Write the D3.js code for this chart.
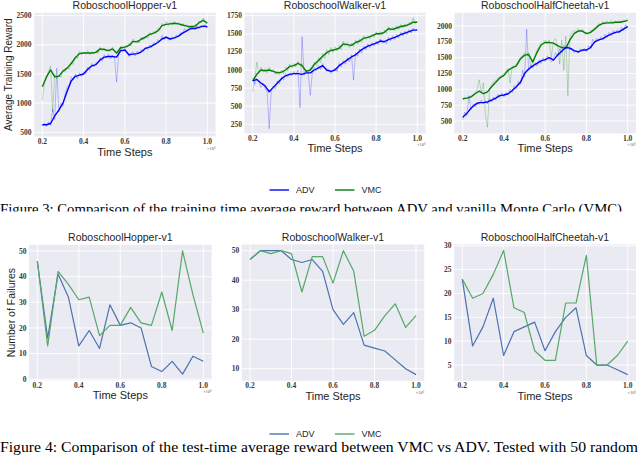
<!DOCTYPE html>
<html>
<head>
<meta charset="utf-8">
<script src="https://cdn.jsdelivr.net/npm/d3@7"></script>
<style>
body { margin: 0; background: #fff; }
svg { display: block; }
</style>
</head>
<body>
<svg width="640" height="455"></svg>
<script>
// ---- data ----
// smoothed curves, time steps 0.20 .. 1.00 every 0.02 (x10^6)
var hopperAdv = [630,630,650,780,880,1000,1200,1380,1460,1480,1500,1580,1640,1660,1740,1790,1800,1800,1790,1900,1910,1830,1840,1850,1880,1940,1960,2000,2040,2100,2130,2100,2120,2150,2200,2240,2280,2280,2300,2320,2310];
var hopperVmc = [1280,1450,1570,1450,1460,1550,1600,1680,1780,1850,1860,1860,1860,1870,1930,1920,1900,1930,1860,1950,1960,1990,2060,2050,2100,2130,2180,2200,2240,2330,2350,2360,2370,2360,2340,2320,2310,2320,2380,2420,2370];
var walkerAdv = [850,870,820,780,700,760,820,880,920,940,950,950,940,960,960,1000,1030,1060,1000,980,1000,1060,1100,1140,1180,1210,1260,1300,1330,1350,1370,1400,1390,1420,1440,1460,1490,1510,1530,1550,1550];
var walkerVmc = [850,940,1000,990,1000,980,960,970,1000,1050,1060,1090,1060,980,1000,1080,1130,1190,1240,1270,1280,1300,1360,1350,1340,1380,1400,1440,1450,1470,1500,1500,1520,1570,1560,1580,1600,1610,1630,1660,1660];
var cheetahAdv = [560,620,700,760,790,790,800,830,860,900,910,930,980,1040,1110,1250,1320,1370,1410,1450,1470,1500,1460,1540,1600,1660,1650,1610,1590,1620,1620,1660,1750,1780,1800,1840,1870,1900,1910,1950,1990];
var cheetahVmc = [850,860,880,930,970,930,960,1040,1110,1180,1220,1300,1340,1370,1480,1540,1550,1430,1580,1700,1740,1740,1730,1690,1660,1650,1780,1880,1920,1920,1880,1900,1950,2010,2040,2050,2050,2060,2060,2070,2090];

// raw (unsmoothed) curves, time steps 0.20 .. 1.00 every 0.01
var hopperAdvRaw = [610,660,600,680,620,900,720,1600,850,1000,950,1150,1280,1300,1450,1400,1500,1420,1520,1460,1540,1510,1620,1560,1680,1620,1700,1690,1780,1720,1830,1770,1840,1760,1820,1780,1360,1850,1950,1880,1940,1870,1800,1860,1880,1810,1890,1840,1920,1880,1960,1920,2000,1950,2040,2000,2090,2060,2160,2090,2150,2100,2080,2140,2100,2170,2140,2210,2190,2280,2240,2300,2260,2320,2260,2330,2280,2340,2300,2350,2290];
var hopperVmcRaw = [1050,1350,1420,1560,1640,850,1500,1420,1480,1440,1570,1530,1620,1580,1700,1660,1800,1760,1890,1830,1880,1840,1900,1830,1880,1840,1900,1850,1960,1900,1950,1890,1920,1880,1960,1900,1840,1900,1980,1930,1990,1950,2020,1980,2100,2040,2080,2030,2130,2080,2160,2110,2210,2160,2230,2190,2280,2240,2370,2320,2400,2330,2390,2340,2400,2350,2390,2330,2370,2320,2350,2290,2340,2290,2350,2330,2410,2380,2460,2400,2390];
var walkerAdvRaw = [900,800,880,830,760,820,740,700,190,720,780,740,850,810,900,860,950,900,960,920,980,930,1000,480,1460,930,990,940,650,980,1030,990,1060,1000,1090,1030,980,1010,950,1000,1030,980,1090,1040,1130,1080,1170,1110,1210,860,1240,1190,1290,1230,1330,1280,1360,1310,1380,1330,1400,1350,1430,1370,1410,1360,1450,1400,1470,1420,1490,1440,1520,1470,1540,1490,1560,1510,1580,1540,1570];
var walkerVmcRaw = [700,880,1110,960,1040,970,1020,960,1040,980,1010,940,990,940,1000,950,1040,990,1080,1030,1090,1040,1120,1060,1090,1000,1010,950,1030,990,1110,1060,1170,1100,1230,1160,1280,1210,1310,1240,1320,1260,1340,1280,1400,1330,1380,1310,1370,1320,1410,1360,1430,1380,1470,1420,1480,1430,1500,1450,1530,1480,1530,1480,1550,1500,1600,1540,1590,1540,1610,1560,1630,1580,1640,1600,1660,1620,1720,1640,1680];
var cheetahAdvRaw = [520,640,580,900,680,760,720,800,760,830,770,820,770,850,800,880,830,920,870,940,880,950,910,1000,950,1060,1010,1130,1080,1300,1200,1950,1300,1380,1340,1420,1370,1460,1410,1500,1440,1530,1470,1430,1490,1580,1520,1640,1580,1700,1640,1690,1620,1650,1580,1620,1570,1640,1600,1650,1600,1690,1640,1790,1730,1810,1760,1830,1780,1870,1820,1900,1850,1930,1880,1940,1890,1980,1930,2020,1970];
var cheetahVmcRaw = [830,870,850,890,870,910,950,1000,1150,950,1100,600,400,1000,1070,1120,1150,1180,1200,1220,1250,1290,1330,1100,1370,1350,1400,1450,1510,1530,1570,1560,1580,1350,1460,1520,1620,1680,1730,1760,1780,1720,1780,1500,1760,1800,1700,1400,1780,1300,1840,900,1850,1900,1930,1900,1960,1920,1950,1890,1900,1870,1930,1920,1980,1990,2040,2010,2070,2030,2080,2040,2090,2030,2080,2060,2090,2050,2100,2080,2120];

// test-time failures, time steps 0.20 .. 1.00 every 0.05
var failHopperAdv = [46,16,41,32,13,19,12,29,21,22,20,5,3,7,2,9,7];
var failHopperVmc = [46,13,42,37,31,32,17,21,21,28,22,21,34,19,50,33,18];
var failWalkerAdv = [47,50,50,50,47,46,47,43,30,25,29,18,17,16,13,10,8];
var failWalkerVmc = [47,50,49,50,49,36,48,48,39,50,43,21,23,28,32,24,28];
var failCheetahAdv = [23,9,13,19,7,12,13,14,8,12,15,17,7,5,5,4,3];
var failCheetahVmc = [23,19,20,24,29,17,16,8,6,6,18,18,28,5,5,7,10];

var xTicks = [0.2, 0.4, 0.6, 0.8, 1.0];
var legendNames = ["ADV", "VMC"];

var stepsSmooth = d3.range(41).map(function(i) { return 0.2 + i * 0.02; });
var stepsRaw = d3.range(81).map(function(i) { return 0.2 + i * 0.01; });
var stepsFail = d3.range(17).map(function(i) { return 0.2 + i * 0.05; });

var svg = d3.select("svg");
var BG = "#eaeaf2";
var SANS = "'Liberation Sans', Arial, sans-serif";
var TICKFONT = "'Liberation Serif', serif";

// top row: training reward
var topPanels = [
  { title: "RoboschoolHopper-v1", l: 34.1, r: 215.6, t: 12.7, b: 136.6, yDom: [426, 2551],
    yTicks: [500, 1000, 1500, 2000, 2500], adv: hopperAdv, vmc: hopperVmc, advRaw: hopperAdvRaw, vmcRaw: hopperVmcRaw,
    ylabel: "Average Training Reward", ylabelX: 11.5, ylabelSize: "10px" },
  { title: "RoboschoolWalker-v1", l: 244.5, r: 425.5, t: 12.7, b: 133.3, yDom: [126, 1791],
    yTicks: [250, 500, 750, 1000, 1250, 1500, 1750], adv: walkerAdv, vmc: walkerVmc, advRaw: walkerAdvRaw, vmcRaw: walkerVmcRaw },
  { title: "RoboschoolHalfCheetah-v1", l: 454.5, r: 635.9, t: 12.7, b: 133.3, yDom: [305, 2210],
    yTicks: [500, 750, 1000, 1250, 1500, 1750, 2000], adv: cheetahAdv, vmc: cheetahVmc, advRaw: cheetahAdvRaw, vmcRaw: cheetahVmcRaw }
];

// bottom row: test failures
var bottomPanels = [
  { title: "RoboschoolHopper-v1", l: 29, r: 211.6, t: 244.8, b: 380.3, yDom: [-0.4, 52.4],
    yTicks: [0, 10, 20, 30, 40, 50], adv: failHopperAdv, vmc: failHopperVmc,
    ylabel: "Number of Failures", ylabelX: 14.5, ylabelSize: "10.5px" },
  { title: "RoboschoolWalker-v1", l: 241.7, r: 424.3, t: 244.5, b: 380.8, yDom: [5.9, 52.1],
    yTicks: [10, 20, 30, 40, 50], adv: failWalkerAdv, vmc: failWalkerVmc },
  { title: "RoboschoolHalfCheetah-v1", l: 454, r: 636, t: 244.3, b: 380.8, yDom: [1.7, 30.3],
    yTicks: [5, 10, 15, 20, 25, 30], adv: failCheetahAdv, vmc: failCheetahVmc }
];

function frame(p) {
  var g = svg.append("g");
  var x = d3.scaleLinear().domain([0.16, 1.04]).range([p.l, p.r]);
  var y = d3.scaleLinear().domain(p.yDom).range([p.b, p.t]);

  g.append("rect")
    .attr("x", p.l).attr("y", p.t)
    .attr("width", p.r - p.l).attr("height", p.b - p.t)
    .attr("fill", BG);

  // white grid
  g.selectAll(".gx").data(xTicks).enter().append("line")
    .attr("x1", x).attr("x2", x)
    .attr("y1", p.t).attr("y2", p.b)
    .attr("stroke", "#fff").attr("stroke-width", 0.9);
  g.selectAll(".gy").data(p.yTicks).enter().append("line")
    .attr("x1", p.l).attr("x2", p.r)
    .attr("y1", y).attr("y2", y)
    .attr("stroke", "#fff").attr("stroke-width", 0.9);

  // tick labels
  g.selectAll(".tx").data(xTicks).enter().append("text")
    .attr("x", x).attr("y", p.b + 7.5)
    .attr("text-anchor", "middle")
    .style("font-family", TICKFONT).style("font-weight", "bold").style("font-size", "7.5px")
    .attr("fill", "#3a3a3a")
    .text(function(d) { return d.toFixed(1); });
  g.selectAll(".ty").data(p.yTicks).enter().append("text")
    .attr("x", p.l - 2.5).attr("y", function(d) { return y(d) + 2.6; })
    .attr("text-anchor", "end")
    .style("font-family", TICKFONT).style("font-weight", "bold").style("font-size", "7.5px")
    .attr("fill", "#3a3a3a")
    .text(function(d) { return d; });

  // x10^6 offset
  g.append("text")
    .attr("x", p.r).attr("y", p.b + 13)
    .attr("text-anchor", "end")
    .style("font-family", TICKFONT).style("font-size", "4.5px")
    .attr("fill", "#555")
    .text("\u00d710\u2076");

  g.append("text")
    .attr("x", (p.l + p.r) / 2).attr("y", p.t - 3.5)
    .attr("text-anchor", "middle")
    .style("font-family", SANS).style("font-size", "10.5px")
    .attr("fill", "#262626")
    .text(p.title);

  g.append("text")
    .attr("x", (p.l + p.r) / 2).attr("y", p.b + 19)
    .attr("text-anchor", "middle")
    .style("font-family", SANS).style("font-size", "11px")
    .attr("fill", "#262626")
    .text("Time Steps");

  if (p.ylabel) {
    g.append("text")
      .attr("transform", "translate(" + p.ylabelX + "," + ((p.t + p.b) / 2) + ") rotate(-90)")
      .attr("text-anchor", "middle")
      .style("font-family", SANS).style("font-size", p.ylabelSize)
      .attr("fill", "#262626")
      .text(p.ylabel);
  }
  return { g: g, x: x, y: y };
}

function path(g, xs, ys, x, y, color, width, opacity) {
  var line = d3.line()
    .x(function(d, i) { return x(xs[i]); })
    .y(function(d) { return y(d); });
  g.append("path")
    .datum(ys)
    .attr("d", line)
    .attr("fill", "none")
    .attr("stroke", color)
    .attr("stroke-width", width)
    .attr("stroke-opacity", opacity)
    .attr("stroke-linejoin", "round");
}

topPanels.forEach(function(p) {
  var f = frame(p);
  var clipId = "clip" + Math.round(p.l);
  f.g.append("clipPath").attr("id", clipId).append("rect")
    .attr("x", p.l).attr("y", p.t).attr("width", p.r - p.l).attr("height", p.b - p.t);
  var lines = f.g.append("g").attr("clip-path", "url(#" + clipId + ")");
  path(lines, stepsRaw, p.vmcRaw, f.x, f.y, "#008000", 0.8, 0.3);
  path(lines, stepsRaw, p.advRaw, f.x, f.y, "#0000ff", 0.8, 0.3);
  path(lines, stepsSmooth, p.vmc, f.x, f.y, "#008000", 1.4, 1);
  path(lines, stepsSmooth, p.adv, f.x, f.y, "#0000ff", 1.4, 1);
});

bottomPanels.forEach(function(p) {
  var f = frame(p);
  path(f.g, stepsFail, p.adv, f.x, f.y, "#4c72b0", 1.2, 1);
  path(f.g, stepsFail, p.vmc, f.x, f.y, "#55a868", 1.2, 1);
});

// legends
function legend(yc, colors) {
  var lg = svg.append("g");
  var xs = [269.5, 335];
  legendNames.forEach(function(name, i) {
    lg.append("line")
      .attr("x1", xs[i]).attr("x2", xs[i] + 19.5)
      .attr("y1", yc).attr("y2", yc)
      .attr("stroke", colors[i]).attr("stroke-width", 1.4);
    lg.append("text")
      .attr("x", xs[i] + 26.5).attr("y", yc + 3.3)
      .style("font-family", SANS).style("font-size", "9px")
      .attr("fill", "#262626")
      .text(name);
  });
}
legend(190, ["#0000ff", "#008000"]);
legend(434, ["#4c72b0", "#55a868"]);

// captions (figure 3 caption is cut off in the figure)
svg.append("clipPath").attr("id", "capclip").append("rect")
  .attr("x", 0).attr("y", 200).attr("width", 640).attr("height", 11.5);
svg.append("text")
  .attr("clip-path", "url(#capclip)")
  .attr("x", 0).attr("y", 214)
  .attr("textLength", 622).attr("lengthAdjust", "spacingAndGlyphs")
  .style("font-family", "'Liberation Serif', 'Times New Roman', serif").style("font-size", "15px")
  .attr("fill", "#000")
  .text("Figure 3: Comparison of the training time average reward between ADV and vanilla Monte Carlo (VMC)");

svg.append("text")
  .attr("x", 0).attr("y", 452)
  .attr("textLength", 638).attr("lengthAdjust", "spacingAndGlyphs")
  .style("font-family", "'Liberation Serif', 'Times New Roman', serif").style("font-size", "14.5px")
  .attr("fill", "#000")
  .text("Figure 4: Comparison of the test-time average reward between VMC vs ADV. Tested with 50 random");
</script>
</body>
</html>
